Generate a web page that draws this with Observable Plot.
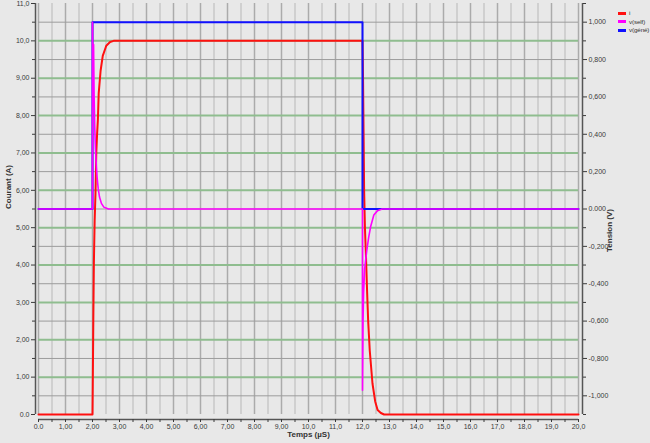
<!DOCTYPE html>
<html>
<head>
<meta charset="utf-8">
<script src="https://cdn.jsdelivr.net/npm/d3@7"></script>
<script src="https://cdn.jsdelivr.net/npm/@observablehq/plot@0.6"></script>
<style>
  html, body { margin: 0; padding: 0; background: #e8e8e8; }
  #wrap { position: relative; width: 650px; height: 443px; overflow: hidden; }
  #legend { position: absolute; left: 618px; top: 9px; font: 6.2px "Liberation Sans", Arial, sans-serif; color: #333; letter-spacing: -0.1px; }
  #legend div { height: 8.5px; line-height: 8.5px; white-space: nowrap; }
  #legend span.sw { display: inline-block; width: 8px; height: 3px; vertical-align: middle; margin-right: 3px; }
</style>
</head>
<body>
<div id="wrap"><div id="legend"></div></div>
<script>
// ---- Data ----
const seriesNames = ["i", "v(self)", "v(géné)"];
const seriesColors = ["#ff1010", "#ff00ff", "#1010ff"];

// Courant i (A) vs Temps (µS)
const tI = [0, 2.00, 2.01, 2.03, 2.05, 2.08, 2.11, 2.14, 2.17, 2.20, 2.23, 2.30, 2.38, 2.51, 2.65, 2.78,
            12.00, 12.02, 12.04, 12.06, 12.09, 12.13, 12.17, 12.21, 12.27, 12.37, 12.47, 12.56, 12.68, 12.80, 20];
const iVals = [0, 0, 0.8, 2.5, 4.0, 5.2, 5.9, 7.0, 7.5, 7.9, 8.6, 9.2, 9.6, 9.87, 9.97, 10.0,
               10.0, 9.0, 7.5, 6.0, 5.0, 4.2, 3.3, 2.5, 1.7, 0.83, 0.35, 0.12, 0.04, 0, 0];

// Tension v(self) (V)
const tSelf = [0, 2.00, 2.00, 2.02, 2.04, 2.06, 2.08, 2.11, 2.14, 2.17, 2.21, 2.26, 2.33, 2.42, 2.59,
               12.00, 12.00, 12.02, 12.04, 12.08, 12.16, 12.23, 12.30, 12.42, 12.55, 12.73, 20];
const vSelf = [0, 0, 1.0, 0.55, 0.88, 0.6, 0.45, 0.32, 0.24, 0.17, 0.11, 0.064, 0.03, 0.01, 0,
               0, -0.97, -0.6, -0.45, -0.32, -0.22, -0.15, -0.095, -0.032, -0.01, 0, 0];

// Tension v(géné) (V)
const tGene = [0, 2, 2, 12, 12, 20];
const vGene = [0, 0, 1, 1, 0, 0];

// Axes
const xTicks = d3.range(0, 21, 1);
const xTickLabels = ["0.0","1,00","2,00","3,00","4,00","5,00","6,00","7,00","8,00","9,00",
                     "10,0","11,0","12,0","13,0","14,0","15,0","16,0","17,0","18,0","19,0","20,0"];
const xMinor = d3.range(0.5, 20, 1);
const leftTicks = d3.range(0, 12, 1);
const leftTickLabels = ["0.0","1,00","2,00","3,00","4,00","5,00","6,00","7,00","8,00","9,00","10,0","11,0"];
const leftMinor = d3.range(0.5, 11, 1);
const rightTicksV = [-1, -0.8, -0.6, -0.4, -0.2, 0, 0.2, 0.4, 0.6, 0.8, 1];
const rightTickLabels = ["-1,000","-0,800","-0,600","-0,400","-0,200","0.000","0,200","0,400","0,600","0,800","1,000"];
const rightMinorV = [-1.1, -0.9, -0.7, -0.5, -0.3, -0.1, 0.1, 0.3, 0.5, 0.7, 0.9, 1.1];

// secondary axis: V -> A on the left scale (0 V ↔ 5.5 A, 1 V ↔ 5 A span)
const toA = v => 5.5 + 5 * v;
const rightTicksA = rightTicksV.map(toA);
const rightMinorA = rightMinorV.map(toA);

const font = "Liberation Sans, Arial, sans-serif";

const chart = Plot.plot({
  width: 650, height: 443,
  marginLeft: 38, marginRight: 72, marginTop: 3, marginBottom: 29,
  x: {domain: [0, 20], axis: null},
  y: {domain: [0, 11], axis: null},
  style: {background: "#e8e8e8", fontFamily: font, fontSize: "7px", color: "#3a3a3a"},
  marks: [
    // vertical grid
    Plot.ruleX(xMinor, {stroke: "#c8c8c8", strokeWidth: 1.5}),
    Plot.ruleX(xTicks, {stroke: "#ababab", strokeWidth: 1.5}),
    // horizontal grid (right axis = gray, left axis = green)
    Plot.ruleY(rightTicksA, {stroke: "#9c9c9c", strokeWidth: 1}),
    Plot.ruleY(leftTicks.filter(d => d > 0 && d < 11), {stroke: "#8fbd8f", strokeWidth: 2}),
    // series
    Plot.line(tI, {x: tI, y: iVals, stroke: seriesColors[0], strokeWidth: 2}),
    Plot.line(tGene, {x: tGene, y: vGene.map(toA), stroke: seriesColors[2], strokeWidth: 2}),
    Plot.line(tSelf, {x: tSelf, y: vSelf.map(toA), stroke: seriesColors[1], strokeWidth: 1.6}),
    // axis lines
    Plot.ruleX([0], {dx: -3, stroke: "#555", strokeWidth: 1.5}),
    Plot.ruleX([20], {dx: 4, stroke: "#555", strokeWidth: 1.5}),
    Plot.ruleY([0], {dy: 5, stroke: "#555", strokeWidth: 1.5}),
    // left axis
    Plot.axisY(leftTicks, {anchor: "left", dx: -3, tickSize: 4, tickPadding: 2, label: null,
      tickFormat: d => leftTickLabels[leftTicks.indexOf(d)]}),
    Plot.axisY(leftMinor, {anchor: "left", dx: -3, tickSize: 3, label: null, tickFormat: () => ""}),
    // right axis
    Plot.axisY(rightTicksA, {anchor: "right", dx: 4, tickSize: 4, tickPadding: 2, label: null,
      tickFormat: d => rightTickLabels[rightTicksA.indexOf(d)]}),
    Plot.axisY(rightMinorA, {anchor: "right", dx: 4, tickSize: 3, label: null, tickFormat: () => ""}),
    // bottom axis
    Plot.axisX(xTicks, {anchor: "bottom", dy: 5, tickSize: 3, tickPadding: 2, label: null,
      tickFormat: d => xTickLabels[xTicks.indexOf(d)]}),
    Plot.axisX(xMinor, {anchor: "bottom", dy: 5, tickSize: 3, label: null, tickFormat: () => ""}),
    // axis titles
    Plot.text(["Courant (A)"], {frameAnchor: "left", dx: -30, rotate: -90, fontWeight: "bold", fontSize: 8, fill: "#333"}),
    Plot.text(["Tension (V)"], {frameAnchor: "right", dx: 31, rotate: -90, fontWeight: "bold", fontSize: 8, fill: "#333"}),
    Plot.text(["Temps (µS)"], {frameAnchor: "bottom", dy: 22, fontWeight: "bold", fontSize: 8, fill: "#333"})
  ]
});
document.getElementById("wrap").prepend(chart);

// legend
const legend = document.getElementById("legend");
seriesNames.forEach((n, k) => {
  const row = document.createElement("div");
  const sw = document.createElement("span");
  sw.className = "sw";
  sw.style.background = seriesColors[k];
  row.appendChild(sw);
  row.appendChild(document.createTextNode(n));
  legend.appendChild(row);
});
</script>
</body>
</html>
